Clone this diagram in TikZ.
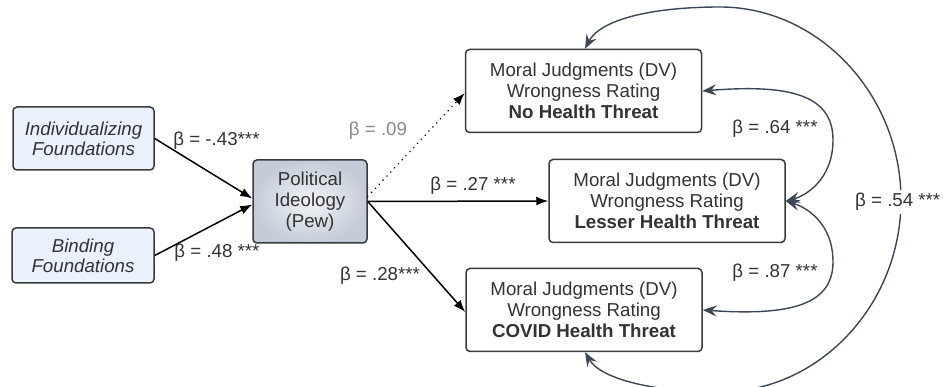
\documentclass[tikz,border=0pt]{standalone}
\usepackage{fontspec}
\setmainfont{Liberation Sans}
\usetikzlibrary{arrows.meta}
\definecolor{ink}{HTML}{333333}
\definecolor{boxline}{HTML}{3A3A3A}
\definecolor{lightblue}{HTML}{EAF1FB}
\definecolor{slate}{HTML}{3D4654}
\definecolor{pewout}{HTML}{C4CCD7}
\definecolor{pewin}{HTML}{F2F4F7}
\definecolor{faint}{HTML}{8A8A8A}
\begin{document}
\begin{tikzpicture}[x=1pt,y=-1pt,
  every node/.style={font=\fontsize{18.7}{21}\selectfont, text=ink},
  box/.style={draw=boxline, line width=1.5pt, rounded corners=4pt, inner sep=0pt, align=center},
  factor/.style={box, fill=lightblue, font=\fontsize{18.7}{20}\selectfont\itshape},
  mediator/.style={box, shade, inner color=pewin, outer color=pewout},
  outcome/.style={box, fill=white, minimum width=236pt, minimum height=83pt},
  path/.style={line width=1.5pt, -{Latex[length=12pt,width=9pt]}},
  dotpath/.style={line width=1.7pt, line cap=round, dash pattern=on 0.1pt off 5.5pt, -{Latex[length=12pt,width=9pt]}},
  cov/.style={slate, line width=1.4pt, {Stealth[length=14pt,width=11pt,inset=5pt]}-{Stealth[length=14pt,width=11pt,inset=5pt]}},
  coef/.style={inner sep=0pt}]
\useasboundingbox (0,0) rectangle (943,387);
\clip (0,0) rectangle (943,387);

% predictors and mediator
\node[factor, minimum width=141pt, minimum height=63pt] (ind) at (83.5,138.5) {Individualizing\\Foundations};
\node[factor, minimum width=142pt, minimum height=55pt] (bind) at (83,255.5) {Binding\\Foundations};
\node[mediator, minimum width=114pt, minimum height=83pt] (pol) at (310,201.5) {Political\\Ideology\\(Pew)};

% outcome measures
\node[outcome] (nh) at (583.5,91) {Moral Judgments (DV)\\Wrongness Rating\\\textbf{No Health Threat}};
\node[outcome] (le) at (667,201) {Moral Judgments (DV)\\Wrongness Rating\\\textbf{Lesser Health Threat}};
\node[outcome] (co) at (584,310) {Moral Judgments (DV)\\Wrongness Rating\\\textbf{COVID Health Threat}};

% regression paths
\draw[path] (ind.east) -- ([yshift=3pt]pol.west);
\draw[path] (bind.east) -- ([yshift=-3pt]pol.west);
\draw[dotpath] ([yshift=5pt]pol.east) -- ([yshift=-2pt]nh.west);
\draw[path] (pol.east) -- (le.west);
\draw[path] (pol.east) -- ([yshift=-2pt]co.west);

% residual covariances among the outcomes
\draw[cov] (nh.east) .. controls (790,84) and (833,95) .. (833,140)
  .. controls (833,180) and (805,196) .. (le.east);
\draw[cov] (le.east) .. controls (805,207) and (833,222) .. (833,262)
  .. controls (833,305) and (790,316) .. (co.east);
\draw[cov] ([xshift=1.5pt]nh.north) .. controls (600,20) and (650,7) .. (720,7)
  .. controls (819,7) and (901,95) .. (901,200)
  .. controls (901,305) and (819,392) .. (720,392)
  .. controls (650,392) and (600,378) .. ([xshift=1pt]co.south);

% coefficients
\node[coef] (b43) at (216.5,141) {β = -.43***};
\node[coef] (b48) at (217,253) {β = .48 ***};
\node[coef, text=faint] (b09) at (378,131) {β = .09};
\node[coef] (b27) at (473,186) {β = .27 ***};
\node[coef] (b28) at (380,276) {β = .28***};
\node[coef] (b64) at (775,129) {β = .64 ***};
\node[coef] (b87) at (775,273) {β = .87 ***};
\node[coef, anchor=west, fill=white, inner ysep=3pt] (b54) at (855,202) {β = .54 ***};
\end{tikzpicture}
\end{document}
